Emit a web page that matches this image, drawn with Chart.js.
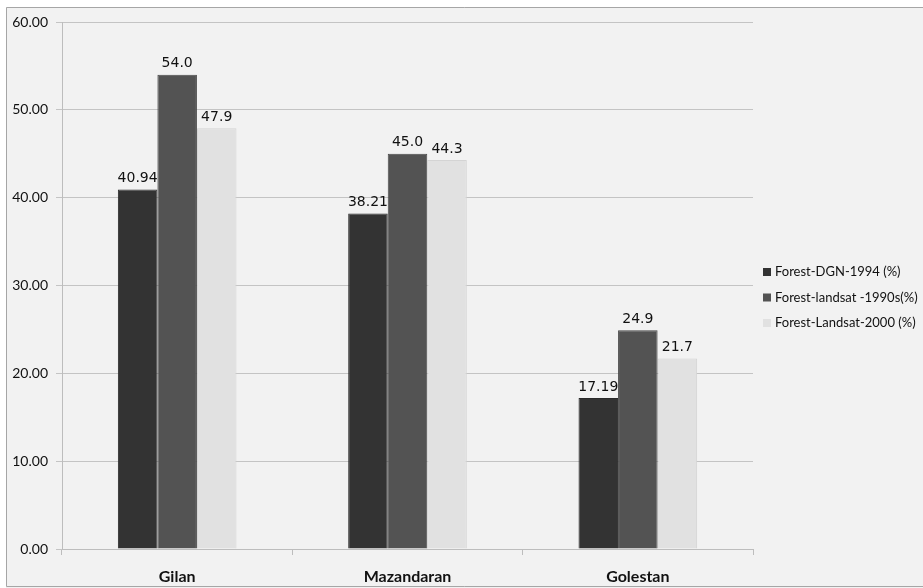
<!DOCTYPE html>
<html>
<head>
<meta charset="utf-8">
<script src="https://cdn.jsdelivr.net/npm/chart.js@4/dist/chart.umd.min.js"></script>
<style>
  html, body { margin: 0; padding: 0; background: #ffffff; }
  #wrap { width: 923px; height: 588px; }
</style>
</head>
<body>
<div id="wrap"><canvas id="c" width="923" height="588"></canvas></div>
<script>
// Provinces along the Caspian coast
const provinces = ['Gilan', 'Mazandaran', 'Golestan'];

// Forest cover (%) by source
const dgn1994 = [40.94, 38.21, 17.19];
const landsat1990s = [54.0, 45.0, 24.9];
const landsat2000 = [47.9, 44.3, 21.7];

const seriesNames = ['Forest-DGN-1994 (%)', 'Forest-landsat -1990s(%)', 'Forest-Landsat-2000 (%)'];
const seriesDecimals = [2, 1, 1];

const yTicks = [0, 10, 20, 30, 40, 50, 60];

const fills = ['#333333', '#535353', '#e1e1e1'];
const edges = ['#2a2a2a', '#484848', '#d4d4d4'];

const tickFont = "Lato, 'Open Sans', sans-serif";
const labelFont = "'DejaVu Sans', sans-serif";

// Panel background and frame
const framePlugin = {
  id: 'frame',
  beforeDraw(chart) {
    const ctx = chart.ctx;
    ctx.save();
    ctx.fillStyle = '#ffffff';
    ctx.fillRect(0, 0, chart.width, chart.height);
    ctx.fillStyle = '#f2f2f2';
    ctx.fillRect(6, 7, chart.width - 6, chart.height - 7);
    ctx.strokeStyle = '#a6a6a6';
    ctx.lineWidth = 1;
    ctx.beginPath();
    ctx.moveTo(chart.width, 7.5);
    ctx.lineTo(6.5, 7.5);
    ctx.lineTo(6.5, 586.5);
    ctx.lineTo(chart.width, 586.5);
    ctx.stroke();
    ctx.restore();
  }
};

// Value labels above every bar
const valueLabels = {
  id: 'valueLabels',
  afterDatasetsDraw(chart) {
    const ctx = chart.ctx;
    ctx.save();
    ctx.font = '14px ' + labelFont;
    ctx.fillStyle = '#111111';
    ctx.textAlign = 'center';
    ctx.textBaseline = 'bottom';
    chart.data.datasets.forEach((ds, i) => {
      const meta = chart.getDatasetMeta(i);
      meta.data.forEach((bar, j) => {
        const v = ds.data[j];
        ctx.fillText(v.toFixed(seriesDecimals[i]), bar.x, bar.y - 4);
      });
    });
    ctx.restore();
  }
};

// Legend drawn at the right of the plot
const sideLegend = {
  id: 'sideLegend',
  afterDraw(chart) {
    const ctx = chart.ctx;
    ctx.save();
    ctx.font = '13px ' + tickFont;
    ctx.textBaseline = 'middle';
    ctx.textAlign = 'left';
    const x0 = 763;
    const y0 = 272;
    chart.data.datasets.forEach((ds, i) => {
      const y = y0 + i * 25.5;
      ctx.fillStyle = ds.backgroundColor;
      ctx.fillRect(x0, y - 4, 8, 8);
      ctx.fillStyle = '#111111';
      ctx.fillText(ds.label, x0 + 12, y);
    });
    ctx.restore();
  }
};

new Chart(document.getElementById('c'), {
  type: 'bar',
  data: {
    labels: provinces,
    datasets: [dgn1994, landsat1990s, landsat2000].map((d, i) => ({
      label: seriesNames[i],
      data: d,
      backgroundColor: fills[i],
      borderColor: edges[i],
      borderWidth: 1,
      categoryPercentage: 0.515,
      barPercentage: 1.0
    }))
  },
  options: {
    responsive: false,
    animation: false,
    devicePixelRatio: 1,
    layout: { padding: { left: 6, right: 170, top: 22, bottom: 0 } },
    plugins: {
      legend: { display: false },
      tooltip: { enabled: false }
    },
    scales: {
      x: {
        grid: {
          display: true,
          drawOnChartArea: false,
          drawTicks: true,
          tickLength: 6,
          offset: true,
          color: '#bdbdbd'
        },
        border: { display: true, color: '#bdbdbd', width: 1 },
        ticks: {
          color: '#111111',
          font: { family: tickFont, size: 16, weight: 'bold' },
          padding: 12
        },
        afterFit(scale) { scale.height = 39; }
      },
      y: {
        min: 0,
        max: 60,
        afterBuildTicks(scale) { scale.ticks = yTicks.map(v => ({ value: v })); },
        grid: {
          color: '#c4c4c4',
          drawTicks: true,
          tickLength: 6
        },
        border: { display: true, color: '#bdbdbd', width: 1 },
        ticks: {
          color: '#111111',
          font: { family: tickFont, size: 14 },
          padding: 8,
          callback: v => Number(v).toFixed(2)
        },
        afterFit(scale) { scale.width = 56; }
      }
    }
  },
  plugins: [framePlugin, valueLabels, sideLegend]
});
</script>
</body>
</html>
